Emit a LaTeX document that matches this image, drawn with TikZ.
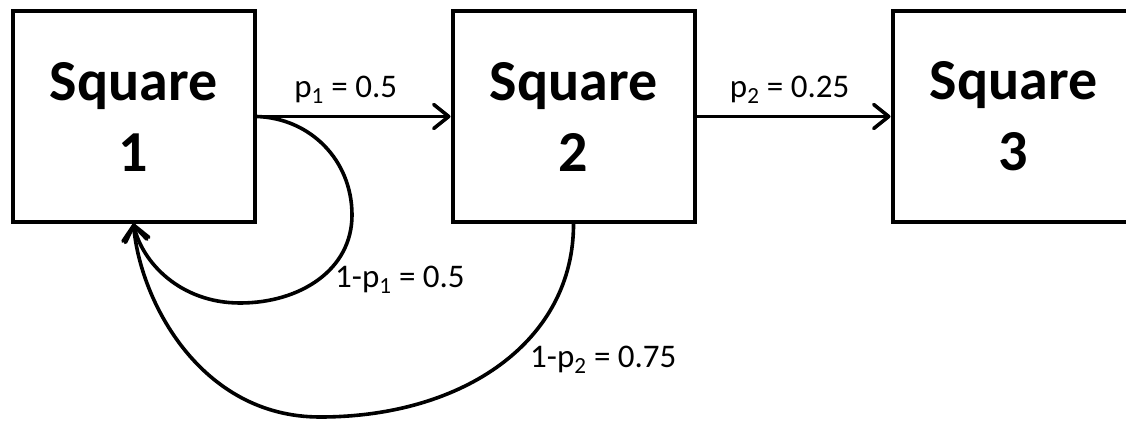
\documentclass[tikz,border=0pt]{standalone}
\usepackage{fontspec}
\setmainfont{Carlito}
\usepackage{tikz}
\usetikzlibrary{arrows.meta,positioning}

\begin{document}
\begin{tikzpicture}[x=1pt, y=-1pt,
  >={Straight Barb[length=15pt,width=24pt,round]},
  sqbox/.style={draw, line width=4pt, minimum width=242pt, minimum height=210pt,
    align=center, inner sep=0pt, font=\bfseries\fontsize{58}{71}\selectfont},
  trans/.style={->, line width=3.6pt},
  prob/.style={font=\fontsize{33}{40}\selectfont, inner sep=0pt}]
  \useasboundingbox (0,0) rectangle (1126,425);
  \clip (0,0) rectangle (1126,425);

  \node [sqbox] (sq1) at (133.5,116.5) {Square\\1};
  \node [sqbox, right of=sq1, node distance=440pt] (sq2) {Square\\2};
  \node [sqbox, right of=sq2, node distance=440pt] (sq3) {Square\\3};

  \draw [trans] (sq1.east) -- node[prob, pos=0.46, anchor=base, yshift=19pt] (lp1) {p\textsubscript{1} = 0.5} (sq2.west);
  \draw [trans] (sq2.east) -- node[prob, pos=0.48, anchor=base, yshift=19pt] (lp2) {p\textsubscript{2} = 0.25} (sq3.west);

  % back to square 1
  \draw [trans] (sq1.east) .. controls (310,118) and (352,160) .. (352,215)
    .. controls (352,270) and (300,303) .. (240,303)
    .. controls (180,303) and (142,262) .. (sq1.south);
  \draw [trans] (sq2.south) .. controls (574,340) and (465,417) .. (320,417)
    .. controls (200,417) and (140,300) .. (sq1.south);

  \node[prob, anchor=base west] (lq1) at (335,287) {1-p\textsubscript{1} = 0.5};
  \node[prob, anchor=base west] (lq2) at (530,367) {1-p\textsubscript{2} = 0.75};
\end{tikzpicture}
\end{document}
